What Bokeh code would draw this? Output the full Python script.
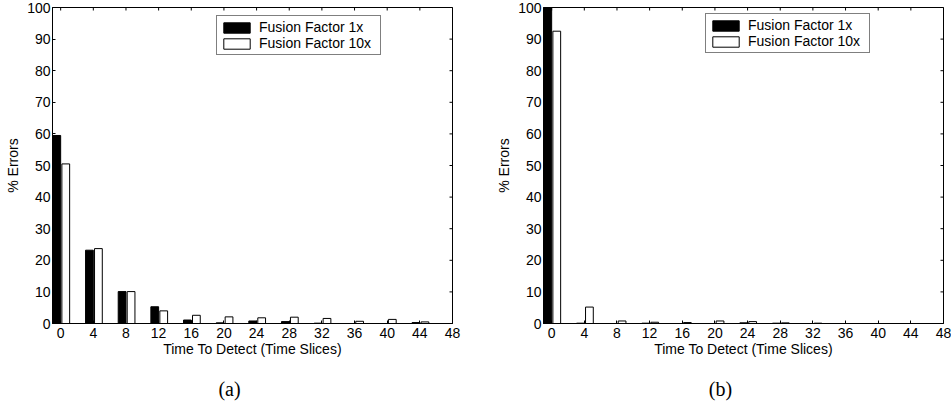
import math
from bokeh.plotting import figure
from bokeh.models import (Range1d, FixedTicker, Legend, LegendItem,
                          Label, ColumnDataSource)
from bokeh.transform import dodge
from bokeh.layouts import row, column
from bokeh.embed import file_html
from bokeh.resources import INLINE

# ---- data ----
times = [0, 4, 8, 12, 16, 20, 24, 28, 32, 36, 40, 44]
a_ff1 = [59.5, 23.2, 10.1, 5.3, 1.1, 0.2, 0.8, 0.6, 0.1, 0.0, 0.0, 0.3]
a_ff10 = [50.5, 23.7, 10.1, 4.0, 2.6, 2.1, 1.8, 2.0, 1.6, 0.7, 1.3, 0.5]
b_ff1 = [100.0, 0.1, 0.0, 0.1, 0.0, 0.0, 0.2, 0.1, 0.0, 0.0, 0.0, 0.0]
b_ff10 = [92.5, 5.2, 0.8, 0.4, 0.3, 0.8, 0.6, 0.2, 0.1, 0.0, 0.0, 0.0]
x_ticks = [0, 4, 8, 12, 16, 20, 24, 28, 32, 36, 40, 44, 48]
y_ticks = [0, 10, 20, 30, 40, 50, 60, 70, 80, 90, 100]
series_labels = ["Fusion Factor 1x", "Fusion Factor 10x"]
captions = ["(a)", "(b)"]
x_label = "Time To Detect (Time Slices)"
y_label = "% Errors"
X_MIN, X_MAX = -1, 48
Y_MIN, Y_MAX = 0, 100

FONT = "Liberation Sans"


def style_axis(ax):
    ax.axis_line_color = "black"
    ax.axis_line_width = 1
    ax.major_tick_line_color = "black"
    ax.minor_tick_line_color = None
    ax.major_tick_in = 3
    ax.major_tick_out = 0
    ax.major_label_text_font = FONT
    ax.major_label_text_font_size = "14px"
    ax.major_label_text_color = "black"
    ax.axis_label_text_font = FONT
    ax.axis_label_text_font_size = "14px"
    ax.axis_label_text_font_style = "normal"
    ax.axis_label_text_color = "black"


def make_panel(ff1, ff10, width, border_left, border_right, leg_x, leg_y):
    p = figure(width=width, height=374, x_range=Range1d(X_MIN, X_MAX),
               y_range=Range1d(Y_MIN, Y_MAX), output_backend="svg",
               toolbar_location=None, min_border_left=border_left,
               min_border_right=border_right, min_border_top=7,
               min_border_bottom=51)
    p.xgrid.visible = False
    p.ygrid.visible = False
    p.outline_line_color = "black"
    p.outline_line_width = 1
    p.background_fill_color = "white"
    p.border_fill_color = "white"

    src = ColumnDataSource(dict(t=times, ff1=ff1, ff10=ff10))
    r1 = p.vbar(x=dodge("t", -0.475, range=p.x_range), top="ff1", width=0.95,
                bottom=0, source=src, fill_color="black", line_color="black",
                line_width=1)
    r2 = p.vbar(x=dodge("t", 0.625, range=p.x_range), top="ff10", width=0.95,
                bottom=0, source=src, fill_color="white", line_color="black",
                line_width=1)

    # inward tick marks on the top and right edges (box style)
    p.scatter(x=x_ticks, y=[Y_MAX] * len(x_ticks), marker="dash", size=6,
              angle=math.pi / 2, line_color="black", line_width=1)
    p.scatter(x=[X_MAX] * len(y_ticks), y=y_ticks, marker="dash", size=6,
              line_color="black", line_width=1)

    xax = p.xaxis[0]
    xax.ticker = FixedTicker(ticks=x_ticks)
    style_axis(xax)
    xax.major_label_standoff = 4
    xax.axis_label = x_label
    xax.axis_label_standoff = 0

    yax = p.yaxis[0]
    yax.ticker = FixedTicker(ticks=y_ticks)
    style_axis(yax)
    yax.major_label_standoff = 2
    yax.axis_label = y_label
    yax.axis_label_standoff = 3

    legend = Legend(items=[LegendItem(label=series_labels[0], renderers=[r1]),
                           LegendItem(label=series_labels[1], renderers=[r2])],
                    location=(leg_x, leg_y), border_line_color="black",
                    border_line_width=1, background_fill_color="white",
                    background_fill_alpha=1.0, padding=3, spacing=0, margin=0,
                    glyph_width=33, glyph_height=13, label_standoff=6,
                    label_height=15, label_width=118,
                    label_text_font=FONT, label_text_font_size="14px",
                    label_text_color="black")
    p.add_layout(legend, "center")
    return p


p1 = make_panel(a_ff1, a_ff10, 491, 52, 39, 164, 268)
p2 = make_panel(b_ff1, b_ff10, 460, 52, 8, 162, 270)

# caption strip under the two panels
cap = figure(width=951, height=28, x_range=Range1d(0, 1), y_range=Range1d(0, 1),
             output_backend="svg", toolbar_location=None,
             x_axis_location=None, y_axis_location=None, min_border=0)
cap.xgrid.visible = False
cap.ygrid.visible = False
cap.outline_line_color = None
cap.background_fill_color = "white"
cap.border_fill_color = "white"
for txt, cx in zip(captions, [229, 720]):
    cap.add_layout(Label(x=cx, y=14, x_units="screen", y_units="screen",
                         text=txt, text_align="center",
                         text_baseline="middle", text_font="Liberation Serif",
                         text_font_size="20px", text_color="black"))

layout = column(row(p1, p2), cap)

open("out.html", "w").write(file_html(layout, INLINE))
